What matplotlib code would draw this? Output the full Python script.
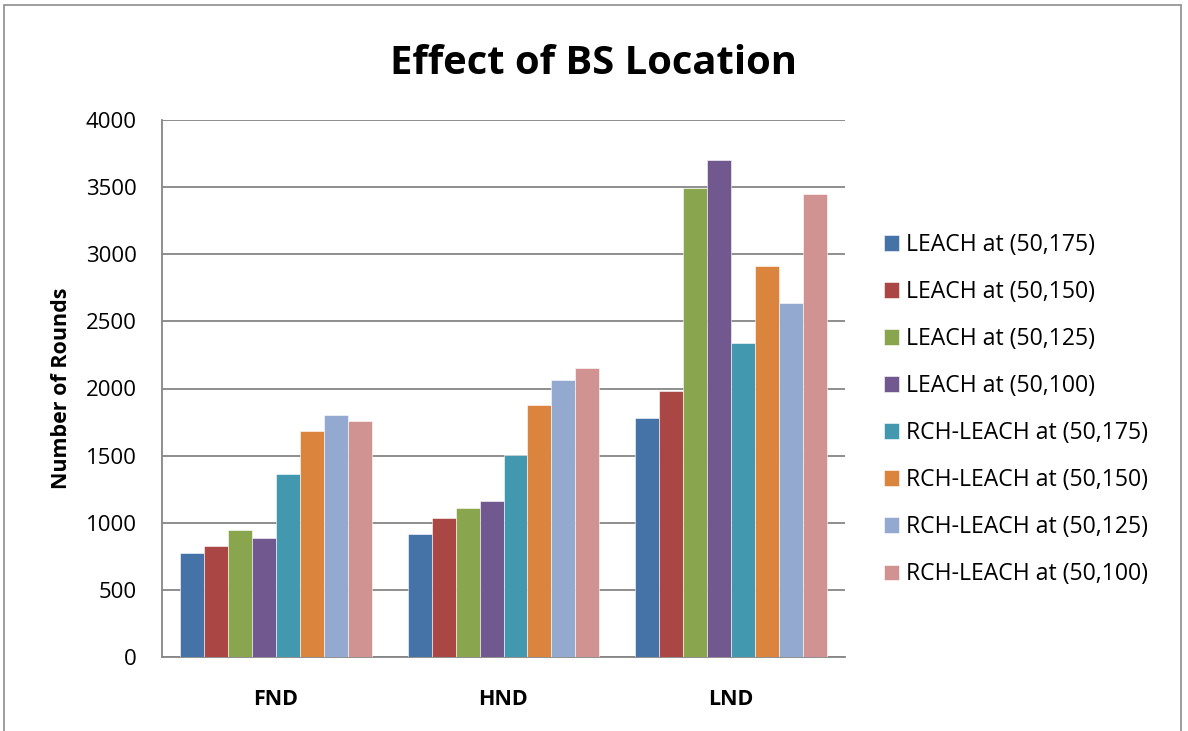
import matplotlib
matplotlib.use("Agg")
import matplotlib.pyplot as plt
from matplotlib.patches import Rectangle
import numpy as np

plt.rcParams['font.family'] = ['Open Sans', 'DejaVu Sans']

categories = ["FND", "HND", "LND"]
series_names = [
    "LEACH at (50,175)", "LEACH at (50,150)", "LEACH at (50,125)", "LEACH at (50,100)",
    "RCH-LEACH at (50,175)", "RCH-LEACH at (50,150)", "RCH-LEACH at (50,125)", "RCH-LEACH at (50,100)",
]
leach_175 = [772, 916, 1780]
leach_150 = [827, 1033, 1981]
leach_125 = [946, 1112, 3496]
leach_100 = [884, 1160, 3705]
rch_175 = [1361, 1507, 2341]
rch_150 = [1683, 1880, 2912]
rch_125 = [1803, 2063, 2634]
rch_100 = [1758, 2153, 3446]
series_values = [leach_175, leach_150, leach_125, leach_100, rch_175, rch_150, rch_125, rch_100]
colors = ["#4572A7", "#AA4643", "#89A54E", "#71588F", "#4198AF", "#DB843D", "#93A9CF", "#D19392"]
yticks = [0, 500, 1000, 1500, 2000, 2500, 3000, 3500, 4000]

fig = plt.figure(figsize=(11.88, 7.31), dpi=100)
fig.patches.append(Rectangle((4/1188, -0.1), 1177/1188, 1.1 - 5/731,
                             transform=fig.transFigure, fill=False, edgecolor="#8C8C8C",
                             linewidth=1.2))
ax = fig.add_axes([162/1188, 1 - 657/731, (845 - 162)/1188, (657 - 120)/731])

x = np.arange(len(categories))
n = len(series_values)
w = 1 / (n + 1.5)
for i, (vals, name, c) in enumerate(zip(series_values, series_names, colors)):
    ax.bar(x + (i - (n - 1) / 2) * w, vals, width=w, color=c, label=name,
           edgecolor="white", linewidth=0.4, zorder=3)

ax.set_xlim(-0.5, len(categories) - 0.5)
ax.set_ylim(0, 4000)
ax.set_yticks(yticks)
ax.set_yticklabels([str(v) for v in yticks], fontsize=16)
ax.set_xticks(x)
ax.set_xticklabels(categories, fontsize=15.5, fontweight="bold")
ax.tick_params(axis="both", length=0)
ax.tick_params(axis="y", pad=18)
ax.tick_params(axis="x", pad=23)
ax.yaxis.grid(True, color="#868686", linewidth=1.3, zorder=0)
ax.set_axisbelow(True)
for s in ["top", "right"]:
    ax.spines[s].set_visible(False)
for s in ["left", "bottom"]:
    ax.spines[s].set_color("#868686")
    ax.spines[s].set_linewidth(1.3)
ax.set_ylabel("Number of Rounds", fontsize=15.5, fontweight="bold", labelpad=10)

fig.text(594/1188, 1 - 63/731, "Effect of BS Location", fontsize=28.8, fontweight="bold",
         ha="center", va="center")

fig.legend(loc="upper left", bbox_to_anchor=(884/1188, 1 - 233/731), frameon=False,
           fontsize=16.6, handlelength=0.66, handleheight=0.66, handletextpad=0.3,
           labelspacing=1.0, borderaxespad=0, borderpad=0)

fig.savefig("out.png", dpi=100)
